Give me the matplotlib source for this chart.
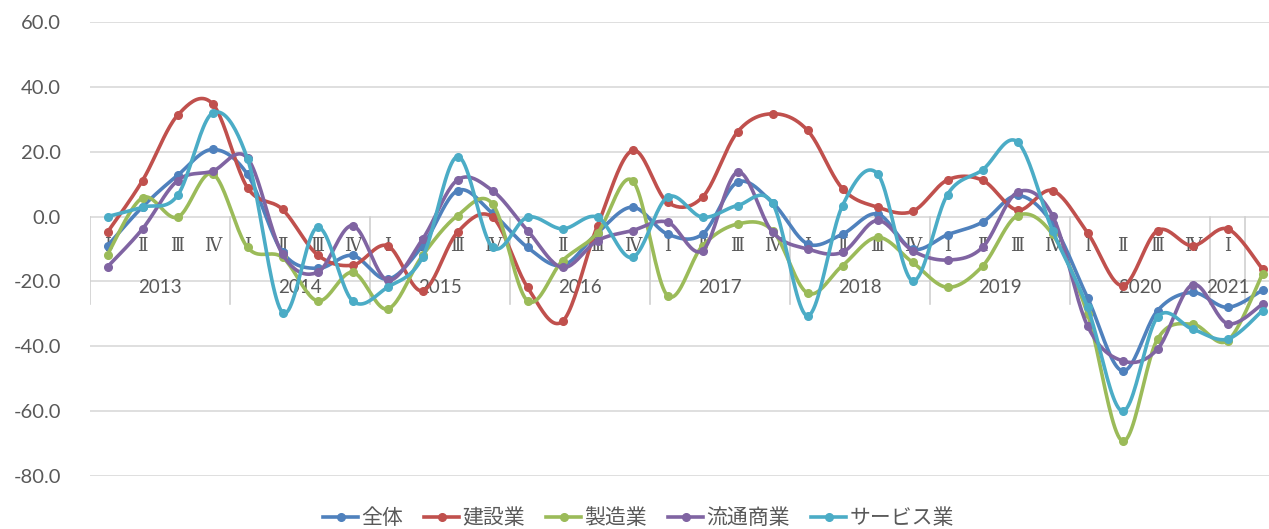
import matplotlib
matplotlib.use("Agg")
import matplotlib.pyplot as plt
import numpy as np

plt.rcParams['font.family'] = ['Lato', 'Noto Sans CJK JP', 'DejaVu Sans']

# quarters 2013 I .. 2021 II (last one has no label)
years = ["2013", "2014", "2015", "2016", "2017", "2018", "2019", "2020", "2021"]
quarters = ["Ⅰ", "Ⅱ", "Ⅲ", "Ⅳ"]

zentai = [-9.0, 3.0, 12.7, 20.7, 13.0, -11.0, -16.0, -12.0, -19.3, -9.0,
          8.0, 1.0, -9.5, -15.1, -5.0, 2.9, -5.4, -5.4, 10.6, 4.3,
          -8.4, -5.4, 0.8, -10.0, -5.6, -1.7, 6.5, -2.2, -25.0, -47.6,
          -29.0, -23.4, -28.0, -22.7]
kensetsu = [-4.8, 11.1, 31.2, 34.8, 8.9, 2.2, -11.8, -15.0, -9.0, -22.9,
            -4.8, -0.2, -21.8, -32.3, -2.8, 20.4, 4.4, 6.0, 26.1, 31.7,
            26.6, 8.6, 2.9, 1.6, 11.3, 11.2, 2.0, 8.0, -5.0, -21.3,
            -4.3, -9.0, -3.8, -16.2]
seizo = [-11.7, 5.8, -0.2, 13.2, -9.5, -12.6, -26.0, -17.2, -28.5, -12.0,
         0.3, 3.9, -26.0, -13.6, -5.0, 11.1, -24.4, -9.0, -2.3, -4.3,
         -23.6, -15.1, -6.4, -14.1, -21.8, -15.3, 0.3, -5.5, -30.0, -69.2,
         -37.8, -33.2, -38.3, -17.7]
ryutsu = [-15.5, -3.8, 11.1, 14.0, 18.0, -11.6, -17.2, -2.8, -19.6, -7.0,
          11.3, 8.0, -4.3, -15.7, -7.4, -4.3, -1.7, -10.5, 13.7, -4.8,
          -10.0, -11.0, -1.2, -10.5, -13.4, -9.5, 7.5, 0.3, -33.7, -44.5,
          -40.9, -21.0, -33.0, -27.0]
service = [0.0, 2.9, 6.5, 31.9, 17.8, -29.6, -3.3, -26.0, -21.8, -12.6,
           18.5, -9.5, -0.2, -3.8, -0.2, -12.6, 6.0, -0.2, 3.4, 4.1,
           -30.6, 3.4, 13.2, -19.8, 6.8, 14.4, 23.0, -4.3, -28.0, -60.0,
           -31.0, -34.7, -37.8, -29.0]

series = [("全体", zentai, "#4F81BD"),
          ("建設業", kensetsu, "#C0504D"),
          ("製造業", seizo, "#9BBB59"),
          ("流通商業", ryutsu, "#8064A2"),
          ("サービス業", service, "#4BACC6")]


# Excel-like smoothed line (Catmull-Rom bezier)
def smooth(y, n=24):
    y = np.asarray(y, dtype=float)
    x = np.arange(len(y), dtype=float)
    pts = np.column_stack([x, y])
    out = [pts[0]]
    t = np.linspace(0, 1, n)[1:, None]
    for i in range(len(pts) - 1):
        p0 = pts[i - 1] if i > 0 else pts[i]
        p1, p2 = pts[i], pts[i + 1]
        p3 = pts[i + 2] if i + 2 < len(pts) else pts[i + 1]
        c1 = p1 + (p2 - p0) / 6
        c2 = p2 - (p3 - p1) / 6
        seg = ((1 - t) ** 3) * p1 + 3 * ((1 - t) ** 2) * t * c1 + 3 * (1 - t) * t ** 2 * c2 + t ** 3 * p2
        out.extend(seg)
    out = np.array(out)
    return out[:, 0], out[:, 1]


fig = plt.figure(figsize=(12.69, 5.29), dpi=100)
ax = fig.add_axes([90 / 1269, 1 - 476 / 529, 1190 / 1269, 454 / 529])

n = len(zentai)
ax.set_xlim(-0.5, n - 0.5)
ax.set_ylim(-80, 60)
ax.set_yticks(np.arange(-80, 61, 20))
ax.set_yticklabels([f"{v:.1f}" for v in np.arange(-80, 61, 20)])
ax.tick_params(axis='y', length=0, pad=21, labelsize=14.5, colors="#595959")
ax.set_xticks([])
for s in ax.spines.values():
    s.set_visible(False)
for v in np.arange(-80, 61, 20):
    ax.axhline(v, color="#D9D9D9", lw=1.2, zorder=0)

# category axis labels at y = 0
grey = "#595959"
for i in range(n):
    if i < 33:
        ax.text(i, -9.0, quarters[i % 4], ha="center", va="center", fontsize=13,
                color=grey, family=["DejaVu Serif", "Noto Sans CJK JP"], zorder=1)
for k, yr in enumerate(years):
    start = 4 * k - 0.5
    end = min(4 * k + 3.5, 32.5)
    ax.text((start + end) / 2, -22.0, yr, ha="center", va="center", fontsize=13.5,
            color=grey, zorder=1)
bounds = [4 * k - 0.5 for k in range(9)] + [32.5]
for b in bounds:
    ax.plot([b, b], [0, -27], color="#D0D0D0", lw=1.2, zorder=0)

for name, vals, col in series:
    xs, ys = smooth(vals)
    ax.plot(xs, ys, color=col, lw=2.6, zorder=3, solid_capstyle="round")
    ax.plot(np.arange(n), vals, "o", color=col, ms=5.5, zorder=3)

handles = [plt.Line2D([], [], color=col, lw=2.6, marker="o", ms=5.5) for _, _, col in series]
fig.legend(handles, [s[0] for s in series], loc="center", bbox_to_anchor=(0.503, 0.02),
           ncol=5, frameon=False, fontsize=15, handlelength=1.7, handletextpad=0.15,
           columnspacing=1.0, labelcolor=grey)

fig.savefig("out.png", dpi=100)
